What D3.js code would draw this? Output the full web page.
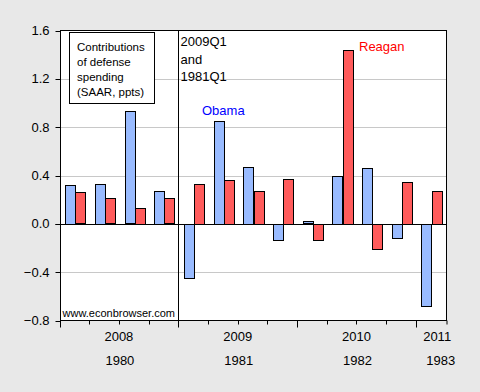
<!DOCTYPE html>
<html>
<head>
<meta charset="utf-8">
<script src="https://cdn.jsdelivr.net/npm/d3@7"></script>
<style>
  html, body { margin: 0; padding: 0; background: #e8e8e8; }
  svg { display: block; font-family: "Liberation Sans", Arial, sans-serif; }
</style>
</head>
<body>
<svg id="chart" width="480" height="392"></svg>
<script>
// ---- data ----
const quarters = ["2008Q1","2008Q2","2008Q3","2008Q4","2009Q1","2009Q2","2009Q3","2009Q4","2010Q1","2010Q2","2010Q3","2010Q4","2011Q1"];
const obama  = [0.32, 0.33, 0.93, 0.27, -0.45, 0.85, 0.47, -0.13, 0.02, 0.40, 0.46, -0.12, -0.68];
const reagan = [0.26, 0.21, 0.13, 0.21, 0.33, 0.36, 0.27, 0.37, -0.13, 1.44, -0.21, 0.35, 0.27];
const seriesNames = ["Obama", "Reagan"];
const yTicks = [-0.8, -0.4, 0.0, 0.4, 0.8, 1.2, 1.6];
const obamaYears = ["2008", "2009", "2010", "2011"];
const reaganYears = ["1980", "1981", "1982", "1983"];
const legendLines = ["Contributions", "of defense", "spending", "(SAAR, ppts)"];
const markerLines = ["2009Q1", "and", "1981Q1"];

// ---- layout ----
const L = 60.5, R = 446.5, T = 30.5, B = 320.5;
const svg = d3.select("#chart");

const x = d3.scaleBand().domain(d3.range(quarters.length)).range([L, R]).padding(0);
const bw = x.bandwidth();
const xs = d3.scaleBand().domain(seriesNames).range([0, bw]).paddingInner(0).paddingOuter(0.46);
const y = d3.scaleLinear().domain([-0.8, 1.6]).range([B, T]);
const colors = { Obama: "#99bbff", Reagan: "#ff5b5b" };

// background plot
svg.append("rect").attr("x", L).attr("y", T).attr("width", R - L).attr("height", B - T).attr("fill", "#fff");

// gridlines
svg.append("g").selectAll("line")
  .data(yTicks.filter(v => v !== 0 && v !== -0.8 && v !== 1.6))
  .join("line")
  .attr("x1", L).attr("x2", R)
  .attr("y1", d => Math.round(y(d)) + 0.5).attr("y2", d => Math.round(y(d)) + 0.5)
  .attr("stroke", "#c8c8c8").attr("stroke-width", 1);

// bars
const rows = quarters.map((q, i) => ({ i, Obama: obama[i], Reagan: reagan[i] }));
const g = svg.append("g").attr("shape-rendering", "crispEdges");
seriesNames.forEach(s => {
  g.selectAll("rect." + s).data(rows).join("rect")
    .attr("class", s)
    .attr("x", d => Math.round(x(d.i) + xs(s)) + 0.5)
    .attr("width", Math.round(xs.bandwidth()))
    .attr("y", d => Math.round(y(Math.max(0, d[s]))) + 0.5)
    .attr("height", d => Math.max(1, Math.round(Math.abs(y(d[s]) - y(0)))))
    .attr("fill", colors[s]).attr("stroke", "#000").attr("stroke-width", 1);
});

// zero line
svg.append("line").attr("x1", L - 5).attr("x2", R)
  .attr("y1", Math.round(y(0)) + 0.5).attr("y2", Math.round(y(0)) + 0.5)
  .attr("stroke", "#000");

// vertical marker at 2009Q1
const xm = Math.round(x(quarters.indexOf("2009Q1"))) - 0.5;
svg.append("line").attr("x1", xm).attr("x2", xm).attr("y1", T).attr("y2", B).attr("stroke", "#000");

// frame
svg.append("rect").attr("x", L).attr("y", T).attr("width", R - L).attr("height", B - T)
  .attr("fill", "none").attr("stroke", "#000");

// y axis ticks + labels
const ya = svg.append("g");
ya.selectAll("line").data(yTicks).join("line")
  .attr("x1", L - 5).attr("x2", L)
  .attr("y1", d => Math.round(y(d)) + 0.5).attr("y2", d => Math.round(y(d)) + 0.5)
  .attr("stroke", "#000");
ya.selectAll("text").data(yTicks).join("text")
  .attr("x", 49.5).attr("y", d => y(d) + 4.5)
  .attr("text-anchor", "end").attr("font-size", 13).attr("fill", "#000")
  .text(d => d3.format(".1f")(d));

// x axis ticks
const xTickIdx = d3.range(quarters.length + 1);
svg.append("g").selectAll("line").data(xTickIdx).join("line")
  .attr("x1", d => Math.round(d < quarters.length ? x(d) : R) + (d < quarters.length ? -0.5 : 0))
  .attr("x2", d => Math.round(d < quarters.length ? x(d) : R) + (d < quarters.length ? -0.5 : 0))
  .attr("y1", B).attr("y2", d => B + (d % 4 === 0 ? 7 : 4))
  .attr("stroke", "#000");

// year labels
function yearCenter(k) {
  const first = 4 * k, last = Math.min(4 * k + 3, quarters.length - 1);
  return (x(first) + x(last) + bw) / 2;
}
svg.append("g").selectAll("text").data(obamaYears).join("text")
  .attr("x", (d, k) => yearCenter(k) + (k === obamaYears.length - 1 ? 5.5 : -1))
  .attr("y", 341).attr("text-anchor", "middle").attr("font-size", 13)
  .text(d => d);
svg.append("g").selectAll("text").data(reaganYears).join("text")
  .attr("x", (d, k) => yearCenter(k) + (k === reaganYears.length - 1 ? 9 : 0))
  .attr("y", 365).attr("text-anchor", "middle").attr("font-size", 13)
  .text(d => d);

// legend box
svg.append("rect").attr("x", 69.5).attr("y", 32.5).attr("width", 85).attr("height", 71)
  .attr("fill", "#fff").attr("stroke", "#000");
svg.append("g").selectAll("text").data(legendLines).join("text")
  .attr("x", 77).attr("y", (d, i) => 50.5 + i * 15)
  .attr("font-size", 11.5).text(d => d);

// marker text
svg.append("g").selectAll("text").data(markerLines).join("text")
  .attr("x", 180.5).attr("y", (d, i) => 46 + i * 17.5)
  .attr("font-size", 13).text(d => d);

// series labels
svg.append("text").attr("x", 202).attr("y", 115).attr("font-size", 13)
  .attr("fill", "#0000ff").text(seriesNames[0]);
svg.append("text").attr("x", 359).attr("y", 51).attr("font-size", 13)
  .attr("fill", "#ff0000").text(seriesNames[1]);

// source
svg.append("text").attr("x", 62.5).attr("y", 317).attr("font-size", 11)
  .text("www.econbrowser.com");
</script>
</body>
</html>
